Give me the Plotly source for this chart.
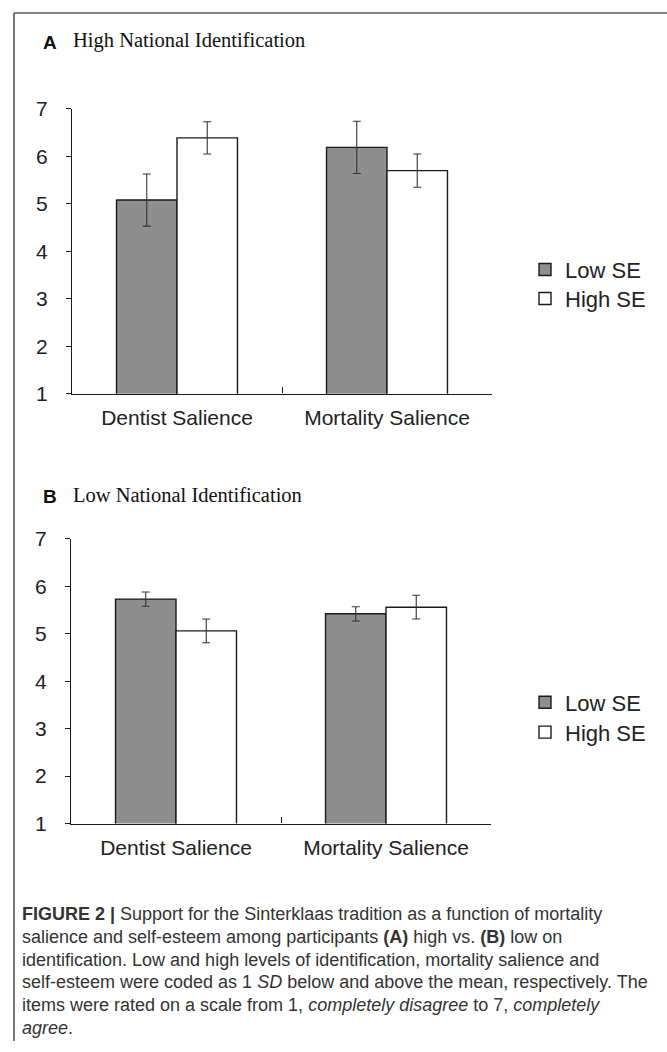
import plotly.graph_objects as go

# ---- data ----
categories = ["Dentist Salience", "Mortality Salience"]
series_names = ["Low SE", "High SE"]

high_id_low_se = [5.08, 6.19]
high_id_low_se_err = [0.55, 0.55]
high_id_high_se = [6.39, 5.70]
high_id_high_se_err = [0.34, 0.35]

low_id_low_se = [5.73, 5.42]
low_id_low_se_err = [0.15, 0.15]
low_id_high_se = [5.06, 5.56]
low_id_high_se_err = [0.25, 0.25]

y_ticks = [1, 2, 3, 4, 5, 6, 7]

panel_titles = [("A", "High National Identification"), ("B", "Low National Identification")]

caption_lines = [
    "<b>FIGURE 2 |</b> Support for the Sinterklaas tradition as a function of mortality",
    "salience and self-esteem among participants <b>(A)</b> high vs. <b>(B)</b> low on",
    "identification. Low and high levels of identification, mortality salience and",
    "self-esteem were coded as 1 <i>SD</i> below and above the mean, respectively. The",
    "items were rated on a scale from 1, <i>completely disagree</i> to 7, <i>completely</i>",
    "<i>agree</i>.",
]

# ---- page geometry ----
W, H = 667, 1052
Y_OFF, Y_SCALE = 11, 0.979
def px(x):
    return x / W
def py(y):
    page_y = (y - Y_OFF) / Y_SCALE
    return max(0.0, min(1.0, 1 - page_y / H))

GREY = "#8e8e8e"
INK = "#1a1a1a"

fig = go.Figure()

legend_slots = {"Low SE": 0, "High SE": 1}
panels = [
    (0, "x", "y", high_id_low_se, high_id_low_se_err, high_id_high_se, high_id_high_se_err),
    (1, "x2", "y2", low_id_low_se, low_id_low_se_err, low_id_high_se, low_id_high_se_err),
]
for p, xa, ya, lo, lo_e, hi, hi_e in panels:
    for name, vals, errs, col in [(series_names[0], lo, lo_e, GREY), (series_names[1], hi, hi_e, "white")]:
        idx = p * 2 + legend_slots[name] + 1
        lg = "legend" if idx == 1 else "legend%d" % idx
        fig.add_trace(go.Bar(
            x=categories, y=vals, name=name, xaxis=xa, yaxis=ya, legend=lg,
            marker=dict(color=col, line=dict(color=INK, width=1.4)),
            error_y=dict(type="data", array=errs, visible=True, color="#333333",
                         thickness=1.1, width=4),
            hoverinfo="skip",
        ))

axis_font = dict(family="Liberation Sans, Arial, sans-serif", size=21, color="#222222")

xcommon = dict(type="category", showline=True, linecolor=INK, linewidth=1.4,
               ticks="inside", tickson="boundaries", ticklen=6, tickcolor=INK, tickwidth=1.4,
               showgrid=False, zeroline=False, tickfont=axis_font, ticklabelstandoff=5,
               fixedrange=True)
ycommon = dict(range=[1, 7], tickvals=y_ticks, showline=True, linecolor=INK, linewidth=1.4,
               ticks="outside", ticklen=5, tickcolor=INK, tickwidth=1.4,
               showgrid=False, zeroline=False, tickfont=axis_font, ticklabelstandoff=14,
               fixedrange=True)

legend_font = dict(family="Liberation Sans, Arial, sans-serif", size=22, color="#222222")
def leg(ycenter):
    return dict(x=px(525), y=py(ycenter), xanchor="left", yanchor="middle",
                font=legend_font, bgcolor="rgba(0,0,0,0)")

fig.update_layout(
    width=W, height=H,
    margin=dict(l=0, r=0, t=0, b=0),
    paper_bgcolor="white", plot_bgcolor="white",
    barmode="group", bargap=0.424, bargroupgap=0,
    showlegend=True,
    xaxis=dict(xcommon, domain=[px(72), px(492)], anchor="y"),
    yaxis=dict(ycommon, domain=[py(393), py(108)], anchor="x"),
    xaxis2=dict(xcommon, domain=[px(71), px(491)], anchor="y2"),
    yaxis2=dict(ycommon, domain=[py(823.3), py(538.3)], anchor="x2"),
    legend=leg(269),
    legend2=leg(298),
    legend3=leg(702),
    legend4=leg(732),
)

# panel titles
for (letter, title), ty in zip(panel_titles, [40, 494]):
    fig.add_annotation(text="<b>%s</b>" % letter, x=px(41), y=py(ty + 2), xref="paper", yref="paper",
                       xanchor="left", yanchor="middle", showarrow=False,
                       font=dict(family="Liberation Sans, Arial, sans-serif", size=19, color="#111111"))
    fig.add_annotation(text=title, x=px(71), y=py(ty), xref="paper", yref="paper",
                       xanchor="left", yanchor="middle", showarrow=False,
                       font=dict(family="Liberation Serif, Times New Roman, serif", size=20.5, color="#111111"))

# caption
for i, line in enumerate(caption_lines):
    fig.add_annotation(text=line, x=px(20), y=py(914 + i * 22.7), xref="paper", yref="paper",
                       xanchor="left", yanchor="middle", showarrow=False,
                       font=dict(family="Liberation Sans, Arial, sans-serif", size=18, color="#333333"))

# frame lines
fig.add_shape(type="line", xref="paper", yref="paper", x0=px(14), x1=1, y0=py(12), y1=py(12),
              line=dict(color="#555555", width=1.6))
fig.add_shape(type="line", xref="paper", yref="paper", x0=px(14), x1=px(14), y0=py(12), y1=0,
              line=dict(color="#555555", width=1.6))

fig.write_html("out.html", config={"displayModeBar": False},
               post_script="document.body.style.margin='0';document.documentElement.style.overflow='hidden';")
